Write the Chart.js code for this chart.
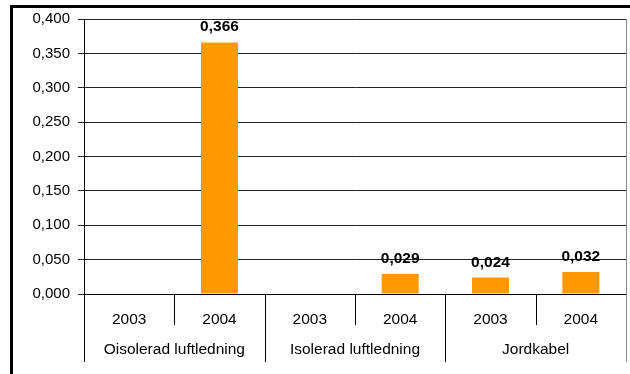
<!DOCTYPE html>
<html>
<head>
<meta charset="utf-8">
<script src="https://cdn.jsdelivr.net/npm/chart.js@4/dist/chart.umd.min.js"></script>
<style>
  html, body { margin: 0; padding: 0; background: #fff; }
  #wrap { position: relative; width: 630px; height: 374px; }
</style>
</head>
<body>
<div id="wrap"><canvas id="c" width="630" height="374"></canvas></div>
<script>
const years = ['2003', '2004', '2003', '2004', '2003', '2004'];
const groups = ['Oisolerad luftledning', 'Isolerad luftledning', 'Jordkabel'];
const values = [null, 0.366, null, 0.029, 0.024, 0.032];
const yMin = 0, yMax = 0.4, yStep = 0.05;

const fmt = v => Number(v).toFixed(3).replace('.', ',');
const FONT = 'Arial, "Liberation Sans", sans-serif';

const framePlugin = {
  id: 'frame',
  beforeDraw(chart) {
    const ctx = chart.ctx;
    ctx.save();
    ctx.fillStyle = '#fff';
    ctx.fillRect(0, 0, chart.width, chart.height);
    ctx.fillStyle = '#000';
    ctx.fillRect(10, 5, chart.width - 10, 3);
    ctx.fillRect(10, 5, 3, chart.height - 5);
    ctx.restore();
  },
  afterDraw(chart) {
    const ctx = chart.ctx;
    const x = chart.scales.x, x2 = chart.scales.x2;
    const n = years.length;
    const w = x.width / n;
    ctx.save();
    ctx.lineWidth = 1;
    for (let i = 0; i <= n; i++) {
      const px = Math.round(x.left + i * w) + 0.5;
      const bottom = (i % 2 === 0) ? x2.bottom : x.bottom - 3;
      ctx.beginPath();
      ctx.moveTo(px, x.top);
      ctx.lineTo(px, bottom);
      ctx.strokeStyle = (i === n) ? '#888' : '#000';
      ctx.stroke();
    }
    ctx.strokeStyle = '#888';
    ctx.beginPath();
    ctx.moveTo(Math.round(chart.chartArea.right) + 0.5, chart.chartArea.top);
    ctx.lineTo(Math.round(chart.chartArea.right) + 0.5, x.top);
    ctx.stroke();
    ctx.restore();
  }
};

const labelPlugin = {
  id: 'barLabels',
  afterDatasetsDraw(chart) {
    const ctx = chart.ctx;
    const meta = chart.getDatasetMeta(0);
    ctx.save();
    ctx.font = 'bold 15.5px ' + FONT;
    ctx.fillStyle = '#000';
    ctx.textAlign = 'center';
    ctx.textBaseline = 'alphabetic';
    meta.data.forEach((bar, i) => {
      const v = values[i];
      if (v === null || v === undefined) return;
      ctx.fillText(fmt(v), bar.x, bar.y - 11);
    });
    ctx.restore();
  }
};

new Chart(document.getElementById('c'), {
  type: 'bar',
  data: {
    labels: years,
    datasets: [{
      data: values,
      backgroundColor: '#FF9900',
      borderWidth: 0,
      categoryPercentage: 1,
      barPercentage: 0.41
    }]
  },
  options: {
    responsive: false,
    animation: false,
    devicePixelRatio: 1,
    layout: { padding: { left: 0, right: 4, top: 19, bottom: 12 } },
    plugins: { legend: { display: false }, tooltip: { enabled: false } },
    scales: {
      y: {
        min: yMin, max: yMax,
        afterFit(s) { s.width = 84; },
        ticks: {
          stepSize: yStep,
          padding: 8,
          color: '#000',
          font: { family: FONT, size: 15 },
          callback: v => fmt(v)
        },
        grid: { color: '#222', lineWidth: 1, tickLength: 6, drawTicks: true },
        border: { display: true, color: '#000', width: 1 }
      },
      x: {
        position: 'bottom',
        offset: true,
        afterFit(s) { s.height = 34; },
        grid: { display: false },
        border: { display: true, color: '#000', width: 1 },
        ticks: {
          color: '#000',
          padding: 8,
          maxRotation: 0,
          autoSkip: false,
          font: { family: FONT, size: 15.5 }
        }
      },
      x2: {
        type: 'category',
        labels: groups,
        position: 'bottom',
        offset: true,
        afterFit(s) { s.height = 34; },
        grid: { display: false },
        border: { display: false },
        ticks: {
          color: '#000',
          padding: 4,
          maxRotation: 0,
          autoSkip: false,
          font: { family: FONT, size: 15.5 }
        }
      }
    }
  },
  plugins: [framePlugin, labelPlugin]
});
</script>
</body>
</html>
